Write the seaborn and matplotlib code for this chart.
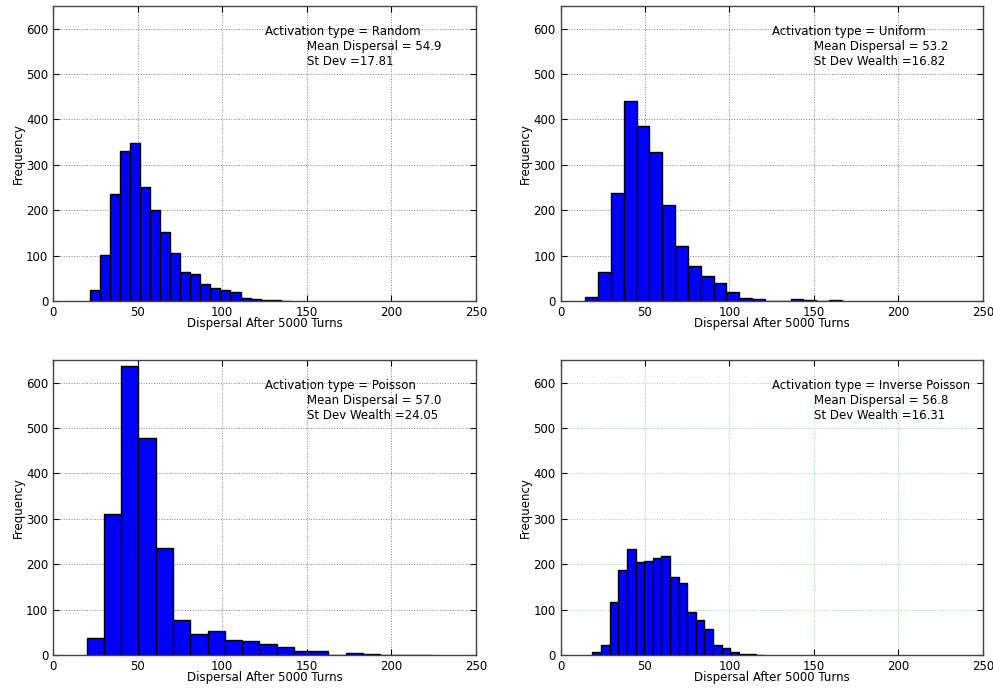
import numpy as np
import pandas as pd
import matplotlib
matplotlib.use("Agg")
import matplotlib.pyplot as plt
import seaborn as sns

# ==========================================
# Data
# ==========================================

activation_types = ["Random", "Uniform", "Poisson", "Inverse Poisson"]
mean_dispersal = ["54.9", "53.2", "57.0", "56.8"]
st_dev_labels = ["St Dev =17.81", "St Dev Wealth =16.82",
                 "St Dev Wealth =24.05", "St Dev Wealth =16.31"]

# bin range (low, high) for each panel, 20 bins each
random_range = (22.0, 140.4)
uniform_range = (14.6, 166.6)
poisson_range = (19.9, 223.9)
inverse_poisson_range = (18.9, 120.9)

random_counts = [25, 101, 236, 330, 349, 251, 201, 153, 105, 63,
                 60, 38, 28, 25, 20, 7, 4, 2, 2, 1]
uniform_counts = [8, 63, 239, 440, 386, 329, 212, 122, 78, 54,
                  40, 19, 6, 4, 0, 0, 4, 2, 0, 2]
poisson_counts = [37, 310, 637, 479, 235, 78, 46, 52, 33, 30,
                  25, 17, 9, 9, 1, 4, 2, 1, 1, 1]
inverse_poisson_counts = [6, 21, 116, 187, 233, 204, 207, 213, 219, 171,
                          158, 94, 76, 57, 21, 15, 6, 3, 3, 1]

ranges = [random_range, uniform_range, poisson_range, inverse_poisson_range]
counts = [random_counts, uniform_counts, poisson_counts, inverse_poisson_counts]

x_ticks = [0, 50, 100, 150, 200, 250]
y_ticks = [0, 100, 200, 300, 400, 500, 600]

# ==========================================
# Style
# ==========================================

sns.set_style("ticks")
plt.rcParams["font.family"] = ["DejaVu Sans"]
plt.rcParams["font.size"] = 8.5
plt.rcParams["text.color"] = "black"
plt.rcParams["axes.labelcolor"] = "black"
plt.rcParams["xtick.color"] = "black"
plt.rcParams["ytick.color"] = "black"

fig = plt.figure(figsize=(9.93, 6.88), dpi=100)

positions = [
    [0.0534, 0.5625, 0.426, 0.4288],
    [0.5645, 0.5625, 0.4252, 0.4288],
    [0.0534, 0.048, 0.426, 0.4288],
    [0.5645, 0.048, 0.4252, 0.4288],
]
grid_colors = ["#808080", "#808080", "#808080", "#9ad09a"]

for i in range(4):
    ax = fig.add_axes(positions[i])
    lo, hi = ranges[i]
    edges = np.linspace(lo, hi, len(counts[i]) + 1)
    df = pd.DataFrame({
        "center": (edges[:-1] + edges[1:]) / 2,
        "count": counts[i],
    })

    sns.histplot(
        data=df,
        x="center",
        weights="count",
        bins=edges.tolist(),
        color="#0000ff",
        alpha=1,
        edgecolor="black",
        linewidth=1,
        ax=ax,
    )

    ax.set_xlim(0, 250)
    ax.set_ylim(0, 650)
    ax.set_xticks(x_ticks)
    ax.set_yticks(y_ticks)
    ax.tick_params(direction="in", top=True, right=True, length=4,
                   labelsize=8.5, color="black", labelcolor="black")
    ax.grid(True, linestyle=":", color=grid_colors[i], linewidth=0.7)
    ax.set_axisbelow(True)
    for s in ax.spines.values():
        s.set_color("#444444")
        s.set_linewidth(1)

    ax.set_xlabel("Dispersal After 5000 Turns", fontsize=8.5, labelpad=-1)
    ax.set_ylabel("Frequency", fontsize=8.5, labelpad=1)

    ax.text(125, 594, "Activation type = " + activation_types[i],
            va="center", ha="left", fontsize=8.5)
    ax.text(150, 561, "Mean Dispersal = " + mean_dispersal[i],
            va="center", ha="left", fontsize=8.5)
    ax.text(150, 528, st_dev_labels[i],
            va="center", ha="left", fontsize=8.5)

plt.savefig("out.png", dpi=100)
plt.close()
